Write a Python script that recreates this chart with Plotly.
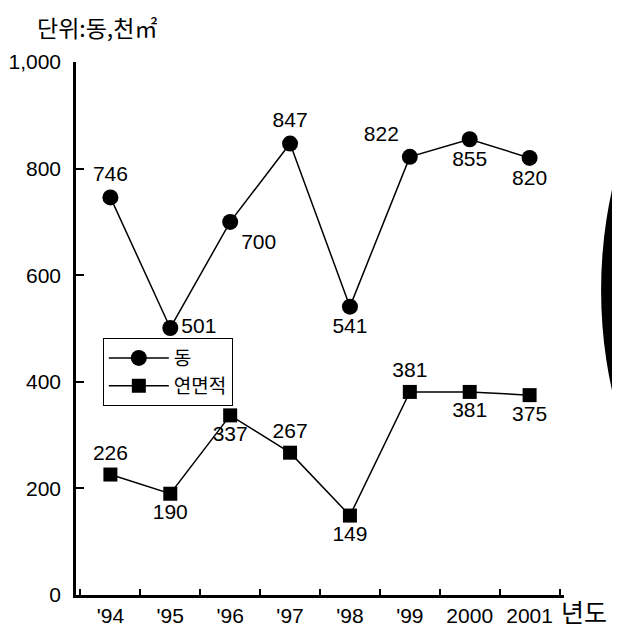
import plotly.graph_objects as go

years = ["'94", "'95", "'96", "'97", "'98", "'99", "2000", "2001"]
dong = [746, 501, 700, 847, 541, 822, 855, 820]
area = [226, 190, 337, 267, 149, 381, 381, 375]
dong_pos = ["top center", "middle right", "bottom right", "top center",
            "bottom center", "top left", "bottom center", "bottom center"]
area_pos = ["top center", "bottom center", "bottom center", "top center",
            "bottom center", "top center", "bottom center", "bottom center"]
y_ticks = [0, 200, 400, 600, 800, 1000]
y_ticktext = ["0", "200", "400", "600", "800", "1,000"]

NUM_FONT = "Liberation Sans, Arial"
KR_FONT = "Noto Sans CJK KR"

fig = go.Figure()
fig.add_trace(go.Scatter(
    x=years, y=dong, name="동", mode="lines+markers+text", cliponaxis=False,
    line=dict(color="black", width=1.5),
    marker=dict(symbol="circle", size=16, color="black"),
    text=[str(v) for v in dong], textposition=dong_pos,
    textfont=dict(family=NUM_FONT, size=21, color="black"),
))
fig.add_trace(go.Scatter(
    x=years, y=area, name="연면적", mode="lines+markers+text", cliponaxis=False,
    line=dict(color="black", width=1.5),
    marker=dict(symbol="square", size=14, color="black"),
    text=[str(v) for v in area], textposition=area_pos,
    textfont=dict(family=NUM_FONT, size=21, color="black"),
))

# page body has an 8px margin, so the figure is sized/offset to compensate
fig.update_layout(
    template="none",
    width=612, height=626,
    margin=dict(l=68, r=56, t=54, b=39, autoexpand=False),
    paper_bgcolor="white", plot_bgcolor="white",
    showlegend=True,
    legend=dict(x=0.055, y=0.482, xanchor="left", yanchor="top",
                bordercolor="black", borderwidth=1, bgcolor="white",
                font=dict(family=KR_FONT, size=19, color="black"),
                itemwidth=60, tracegroupgap=0),
    xaxis=dict(type="category", automargin=False, showgrid=False, showline=True,
               linecolor="black", linewidth=2.5, ticks="inside",
               tickson="boundaries", ticklen=6, tickwidth=1.5, tickcolor="black",
               tickangle=0,
               tickfont=dict(family=NUM_FONT, size=21, color="black")),
    yaxis=dict(range=[0, 1000], automargin=False, showgrid=False, zeroline=False,
               showline=True, linecolor="black", linewidth=2.5, ticks="inside",
               ticklen=8, tickwidth=1.5, tickcolor="black", tickvals=y_ticks,
               ticktext=y_ticktext, ticklabelstandoff=8,
               tickfont=dict(family=NUM_FONT, size=21, color="black")),
    annotations=[
        dict(text="단위:동,천㎡", xref="paper", yref="paper", x=-0.085, y=1.03,
             xanchor="left", yanchor="bottom", showarrow=False,
             font=dict(family=KR_FONT, size=23, color="black")),
        dict(text="년도", xref="paper", yref="paper", x=0.99, y=0.008,
             xanchor="left", yanchor="top", showarrow=False,
             font=dict(family=KR_FONT, size=25, color="black")),
    ],
    shapes=[
        dict(type="circle", xref="paper", yref="paper", x0=1.076, x1=2.2,
             y0=-0.103, y1=1.247, fillcolor="black", line=dict(width=0), layer="above"),
    ],
)

fig.write_html("out.html")
